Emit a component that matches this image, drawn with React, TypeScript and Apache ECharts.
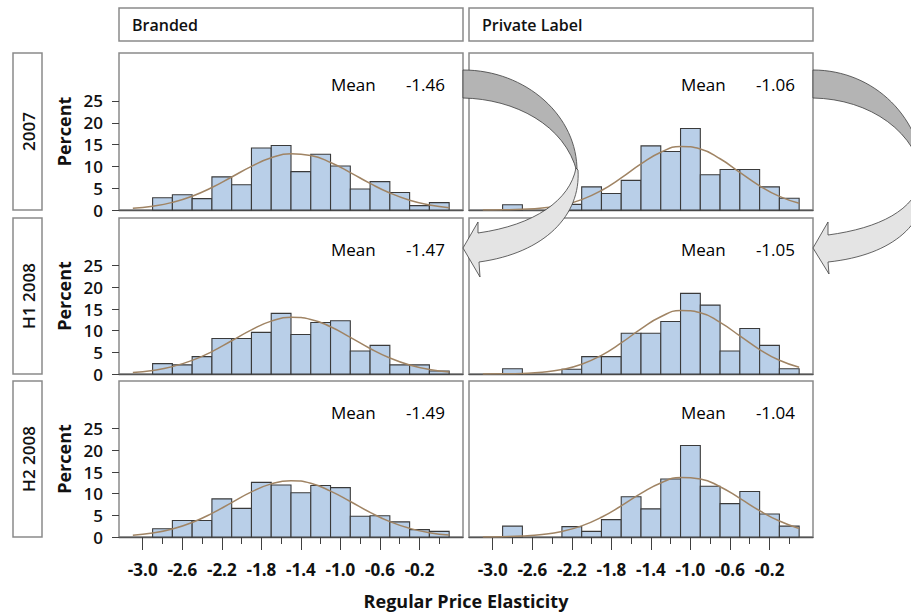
import React, { useEffect, useRef } from "react";
import * as echarts from "echarts";

// ---------------- data ----------------
const binCenters = [-2.8, -2.6, -2.4, -2.2, -2.0, -1.8, -1.6, -1.4, -1.2, -1.0, -0.8, -0.6, -0.4, -0.2, 0.0];
const binWidth = 0.2;

const brandedPct2007 = [2.8, 3.5, 2.6, 7.6, 5.8, 14.2, 14.8, 8.8, 12.8, 10.1, 4.8, 6.5, 4.0, 1.0, 1.7];
const privatePct2007 = [1.2, 0, 0, 1.3, 5.3, 3.8, 6.8, 14.7, 13.4, 18.7, 8.1, 9.3, 9.3, 5.3, 2.7];
const brandedPctH1 = [2.4, 2.1, 4.0, 8.2, 8.2, 9.6, 14.0, 9.1, 11.9, 12.3, 5.3, 6.6, 2.1, 2.1, 0.7];
const privatePctH1 = [1.2, 0, 0, 1.1, 4.0, 4.0, 9.4, 9.4, 12.1, 18.6, 15.9, 5.3, 10.5, 6.6, 1.2];
const brandedPctH2 = [1.9, 3.8, 3.8, 8.8, 6.6, 12.6, 12.0, 10.2, 11.9, 11.4, 4.8, 4.9, 3.5, 1.7, 1.3];
const privatePctH2 = [2.5, 0, 0, 2.4, 1.3, 4.0, 9.3, 6.5, 13.4, 21.1, 11.7, 7.7, 10.5, 5.3, 2.5];

const curveX = [-3.1, -2.9, -2.7, -2.5, -2.3, -2.1, -1.9, -1.7, -1.5, -1.3, -1.1, -0.9, -0.7, -0.5, -0.3, -0.1, 0.1];
const brandedFit2007 = [0.39, 0.87, 1.75, 3.16, 5.15, 7.57, 10.0, 11.97, 12.87, 12.48, 10.9, 8.58, 6.09, 3.89, 2.24, 1.16, 0.54];
const privateFit2007 = [0.01, 0.05, 0.16, 0.45, 1.1, 2.38, 4.47, 7.34, 10.55, 13.25, 14.56, 13.99, 11.75, 8.63, 5.54, 3.11, 1.53];
const brandedFitH1 = [0.36, 0.83, 1.7, 3.14, 5.17, 7.67, 10.2, 12.2, 13.08, 12.6, 10.9, 8.45, 5.89, 3.68, 2.07, 1.04, 0.47];
const privateFitH1 = [0.01, 0.04, 0.14, 0.41, 1.03, 2.25, 4.3, 7.16, 10.41, 13.2, 14.64, 14.15, 11.9, 8.79, 5.65, 3.16, 1.55];
const brandedFitH2 = [0.42, 0.93, 1.86, 3.36, 5.45, 7.94, 10.4, 12.26, 13.0, 12.4, 10.6, 8.19, 5.68, 3.54, 1.99, 1.0, 0.46];
const privateFitH2 = [0.02, 0.08, 0.22, 0.57, 1.28, 2.57, 4.56, 7.19, 10.05, 12.47, 13.73, 13.4, 11.6, 8.92, 6.08, 3.68, 1.97];

const columnLabels = ["Branded", "Private Label"];
const rowLabels = ["2007", "H1 2008", "H2 2008"];
const brandedMeans = [-1.46, -1.47, -1.49];
const privateMeans = [-1.06, -1.05, -1.04];

const yTickValues = [0, 5, 10, 15, 20, 25];
const xLabelValues = [-3.0, -2.6, -2.2, -1.8, -1.4, -1.0, -0.6, -0.2];
const xMinorTickValues = [-2.8, -2.4, -2.0, -1.6, -1.2, -0.8, -0.4, 0.0];
const yAxisTitle = "Percent";
const xAxisTitle = "Regular Price Elasticity";
const meanLabel = "Mean";

// ---------------- layout / style ----------------
const FONT = "'Open Sans', 'Noto Sans', 'DejaVu Sans', sans-serif";
const COL_LEFT = [119, 469];
const COL_WIDTH = 344;
const ROW_TOP = [53, 218, 381];
const ROW_HEIGHT = [157, 156, 156];
const X_MIN = -3.24;
const X_MAX = 0.24;
const Y_MAX = 36;
const BORDER = "#8a8a8a";
const BAR_FILL = "#b9cfe8";
const BAR_STROKE = "#3a3a3a";
const CURVE = "#a08464";

const ARROW_PATHS: Record<string, string> = {
  arrowDark1: "M463 70 C526 70 578 116 577 172 C565 125 515 99 463 98 Z",
  arrowLight1:
    "M576 168 C570 200 535 225 478 233 L478 222 L463 248 L480 277 L479 262 C545 253 581 215 578 170 Z",
  arrowDark2: "M813 70 C874 70 924 118 924 182 C918 132 870 99 813 98 Z",
  arrowLight2:
    "M922 178 C915 210 880 228 828 235 L828 222 L813 248 L829 274 L828 262 C895 255 928 222 926 180 Z",
};

let shapesRegistered = false;
function registerArrows() {
  if (shapesRegistered) return;
  for (const name of Object.keys(ARROW_PATHS)) {
    echarts.graphic.registerShape(name, echarts.graphic.extendPath(ARROW_PATHS[name], {}));
  }
  shapesRegistered = true;
}

function buildOption() {
  const pctRows = [
    [brandedPct2007, privatePct2007],
    [brandedPctH1, privatePctH1],
    [brandedPctH2, privatePctH2],
  ];
  const fitRows = [
    [brandedFit2007, privateFit2007],
    [brandedFitH1, privateFitH1],
    [brandedFitH2, privateFitH2],
  ];
  const meanCols = [brandedMeans, privateMeans];

  const grid: any[] = [];
  const xAxis: any[] = [];
  const yAxis: any[] = [];
  const series: any[] = [];
  const graphic: any[] = [];

  for (let r = 0; r < 3; r++) {
    for (let c = 0; c < 2; c++) {
      const i = grid.length;
      const isBottom = r === 2;
      const isLeft = c === 0;
      grid.push({
        left: COL_LEFT[c],
        top: ROW_TOP[r],
        width: COL_WIDTH,
        height: ROW_HEIGHT[r],
        show: true,
        borderColor: BORDER,
        borderWidth: 1.5,
        backgroundColor: "transparent",
      });
      xAxis.push({
        type: "value",
        gridIndex: i,
        position: "bottom",
        min: X_MIN,
        max: X_MAX,
        splitLine: { show: false },
        axisLine: { show: true, onZero: false, lineStyle: { color: "#555", width: 1.3 } },
        axisTick: {
          show: isBottom,
          customValues: xLabelValues,
          length: 13,
          lineStyle: { color: "#404040", width: 1 },
        },
        axisLabel: {
          show: isBottom,
          customValues: xLabelValues,
          formatter: (v: number) => v.toFixed(1),
          margin: 24,
          fontSize: 17,
          fontWeight: "bold",
          fontFamily: FONT,
          color: "#111",
        },
      });
      yAxis.push({
        type: "value",
        gridIndex: i,
        position: "left",
        min: 0,
        max: Y_MAX,
        splitLine: { show: false },
        axisLine: { show: false, onZero: false },
        axisTick: {
          show: isLeft,
          customValues: yTickValues,
          length: 7,
          lineStyle: { color: "#404040", width: 1 },
        },
        axisLabel: {
          show: isLeft,
          customValues: yTickValues,
          margin: 16,
          fontSize: 17,
          fontWeight: 600,
          fontFamily: FONT,
          color: "#111",
        },
      });

      const pct = pctRows[r][c];
      series.push({
        type: "custom",
        xAxisIndex: i,
        yAxisIndex: i,
        z: 2,
        data: binCenters.map((x, k) => [x, pct[k]]),
        renderItem: (params: any, api: any) => {
          const x = api.value(0);
          const y = api.value(1);
          if (!y) return null;
          const p0 = api.coord([x - binWidth / 2, y]);
          const p1 = api.coord([x + binWidth / 2, 0]);
          return {
            type: "rect",
            shape: { x: p0[0], y: p0[1], width: p1[0] - p0[0], height: p1[1] - p0[1] },
            style: { fill: BAR_FILL, stroke: BAR_STROKE, lineWidth: 1.1 },
          };
        },
      });
      const fit = fitRows[r][c];
      series.push({
        type: "line",
        xAxisIndex: i,
        yAxisIndex: i,
        z: 3,
        smooth: true,
        symbol: "none",
        silent: true,
        data: curveX.map((x, k) => [x, fit[k]]),
        lineStyle: { color: CURVE, width: 1.5 },
      });

      // Mean labels
      graphic.push({
        type: "text",
        x: COL_LEFT[c] + 212,
        y: ROW_TOP[r] + 31,
        z: 50,
        style: {
          text: meanLabel,
          fontSize: 17,
          fontWeight: 500,
          fontFamily: FONT,
          fill: "#000",
          align: "left",
          verticalAlign: "middle",
        },
      });
      graphic.push({
        type: "text",
        x: COL_LEFT[c] + 326,
        y: ROW_TOP[r] + 31,
        z: 50,
        style: {
          text: meanCols[c][r].toFixed(2),
          fontSize: 17,
          fontWeight: 500,
          fontFamily: FONT,
          fill: "#000",
          align: "right",
          verticalAlign: "middle",
        },
      });
    }
  }

  // minor ticks on the bottom row
  for (const gi of [4, 5]) {
    xAxis.push({
      type: "value",
      gridIndex: gi,
      position: "bottom",
      min: X_MIN,
      max: X_MAX,
      splitLine: { show: false },
      axisLine: { show: false, onZero: false },
      axisLabel: { show: false },
      axisTick: {
        show: true,
        customValues: xMinorTickValues,
        length: 7,
        lineStyle: { color: "#404040", width: 1 },
      },
    });
  }

  // column headers
  for (let c = 0; c < 2; c++) {
    graphic.push({
      type: "rect",
      shape: { x: COL_LEFT[c], y: 8, width: COL_WIDTH, height: 33 },
      style: { fill: "#fff", stroke: BORDER, lineWidth: 1.5 },
      z: 10,
    });
    graphic.push({
      type: "text",
      x: COL_LEFT[c] + 13,
      y: 25,
      z: 11,
      style: {
        text: columnLabels[c],
        fontSize: 16,
        fontWeight: 600,
        fontFamily: FONT,
        fill: "#111",
        align: "left",
        verticalAlign: "middle",
      },
    });
  }

  // row headers and y titles
  for (let r = 0; r < 3; r++) {
    const cy = ROW_TOP[r] + ROW_HEIGHT[r] / 2;
    graphic.push({
      type: "rect",
      shape: { x: 13, y: ROW_TOP[r], width: 29, height: ROW_HEIGHT[r] },
      style: { fill: "#fff", stroke: BORDER, lineWidth: 1.5 },
      z: 10,
    });
    graphic.push({
      type: "text",
      x: 28,
      y: cy,
      rotation: Math.PI / 2,
      z: 11,
      style: {
        text: rowLabels[r],
        fontSize: 17,
        fontWeight: 600,
        fontFamily: FONT,
        fill: "#111",
        align: "center",
        verticalAlign: "middle",
      },
    });
    graphic.push({
      type: "text",
      x: 64,
      y: cy,
      rotation: Math.PI / 2,
      z: 11,
      style: {
        text: yAxisTitle,
        fontSize: 18,
        fontWeight: "bold",
        fontFamily: FONT,
        fill: "#111",
        align: "center",
        verticalAlign: "middle",
      },
    });
  }

  // x title
  graphic.push({
    type: "text",
    x: 466,
    y: 601,
    z: 11,
    style: {
      text: xAxisTitle,
      fontSize: 18,
      fontWeight: "bold",
      fontFamily: FONT,
      fill: "#111",
      align: "center",
      verticalAlign: "middle",
    },
  });

  // arrows
  const arrowStroke = { stroke: "#3c3c3c", lineWidth: 0.8 };
  graphic.push({ type: "arrowDark1", x: 0, y: 0, z: 100, style: { fill: "#b4b4b4", ...arrowStroke } });
  graphic.push({ type: "arrowLight1", x: 0, y: 0, z: 100, style: { fill: "#e4e4e4", ...arrowStroke } });
  graphic.push({ type: "arrowDark2", x: 0, y: 0, z: 100, style: { fill: "#b4b4b4", ...arrowStroke } });
  graphic.push({ type: "arrowLight2", x: 0, y: 0, z: 100, style: { fill: "#e4e4e4", ...arrowStroke } });

  return {
    animation: false,
    backgroundColor: "#fff",
    textStyle: { fontFamily: FONT },
    grid,
    xAxis,
    yAxis,
    series,
    graphic: { elements: graphic },
  };
}

export default function App() {
  const ref = useRef<HTMLDivElement>(null);
  useEffect(() => {
    if (!ref.current) return;
    registerArrows();
    const chart = echarts.init(ref.current, undefined, { renderer: "svg" });
    chart.setOption(buildOption() as any);
    return () => chart.dispose();
  }, []);
  return (
    <div
      ref={ref}
      style={{ position: "fixed", left: 0, top: 0, width: 911, height: 616, background: "#fff" }}
    />
  );
}
